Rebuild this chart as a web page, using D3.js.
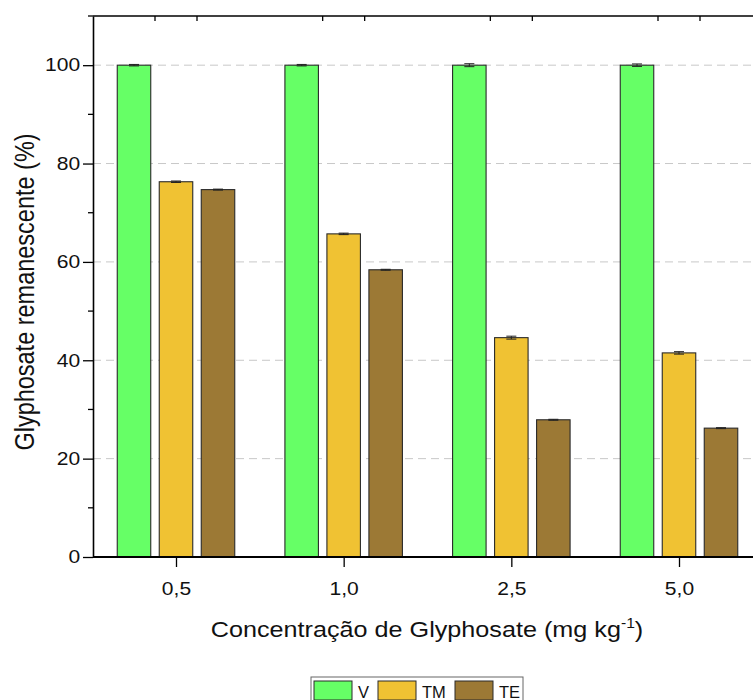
<!DOCTYPE html>
<html>
<head>
<meta charset="utf-8">
<script src="https://cdn.jsdelivr.net/npm/d3@7"></script>
<style>
  html, body { margin: 0; padding: 0; background: #fff; }
  svg { display: block; font-family: "Liberation Sans", Arial, sans-serif; }
</style>
</head>
<body>
<svg id="chart" width="753" height="700"></svg>
<script>
// Remaining glyphosate (%) per concentration and treatment
const categories = ["0,5", "1,0", "2,5", "5,0"];
const seriesNames = ["V", "TM", "TE"];
const valuesV  = [100, 100, 100, 100];
const valuesTM = [76.3, 65.7, 44.6, 41.5];
const valuesTE = [74.7, 58.4, 27.9, 26.2];
const errorsV  = [0.15, 0.15, 0.3, 0.25];
const errorsTM = [0.15, 0.15, 0.3, 0.25];
const errorsTE = [0.1, 0.1, 0.1, 0.1];
const yTicks = [0, 20, 40, 60, 80, 100];
const yMinorTicks = [10, 30, 50, 70, 90, 110];
const colors = ["#66FF66", "#F0C233", "#9C7935"];

const series = [
  { name: seriesNames[0], values: valuesV,  errors: errorsV,  color: colors[0] },
  { name: seriesNames[1], values: valuesTM, errors: errorsTM, color: colors[1] },
  { name: seriesNames[2], values: valuesTE, errors: errorsTE, color: colors[2] }
];

const svg = d3.select("#chart");
const plotLeft = 93, plotTop = 16, plotBottom = 557, plotRight = 762;
const stretch = 1.17;   // text is set slightly wide

const x = d3.scalePoint().domain(categories).range([176, 679]);
const y = d3.scaleLinear().domain([0, 110]).range([plotBottom, plotTop]);
const barW = 33.5, barOffset = 42;

// Dashed gridlines
svg.append("g").selectAll("line").data(yTicks.filter(d => d > 0)).join("line")
  .attr("x1", plotLeft).attr("x2", plotRight)
  .attr("y1", d => y(d)).attr("y2", d => y(d))
  .attr("stroke", "#c8c8c8").attr("stroke-width", 1)
  .attr("stroke-dasharray", "8,5");

// Bars
const groups = svg.append("g").selectAll("g").data(series).join("g");
groups.each(function(s, si) {
  const g = d3.select(this);
  const off = (si - 1) * barOffset;
  g.selectAll("rect").data(s.values).join("rect")
    .attr("x", (d, i) => x(categories[i]) + off - barW / 2)
    .attr("y", d => y(d))
    .attr("width", barW)
    .attr("height", d => y(0) - y(d))
    .attr("fill", s.color)
    .attr("stroke", "#2a2a2a").attr("stroke-width", 1.1);
  // error bars
  const eg = g.append("g").attr("stroke", "#222").attr("stroke-width", 1);
  s.values.forEach((v, i) => {
    const cx = x(categories[i]) + off;
    const e = s.errors[i];
    eg.append("line").attr("x1", cx).attr("x2", cx).attr("y1", y(v + e)).attr("y2", y(v - e));
    eg.append("line").attr("x1", cx - 5).attr("x2", cx + 5).attr("y1", y(v + e)).attr("y2", y(v + e));
    eg.append("line").attr("x1", cx - 5).attr("x2", cx + 5).attr("y1", y(v - e)).attr("y2", y(v - e));
  });
});

// Left axis
const yAxis = d3.axisLeft(y).tickValues(yTicks).tickSize(10).tickSizeOuter(0).tickPadding(1);
const gy = svg.append("g").attr("transform", `translate(${plotLeft},0)`).call(yAxis);
gy.select(".domain").attr("stroke-width", 1.6);
gy.selectAll(".tick line").attr("stroke-width", 1.3);
gy.selectAll(".tick text").attr("font-size", 18).attr("fill", "#111")
  .attr("font-family", "Liberation Sans, Arial, sans-serif")
  .attr("transform", `scale(${stretch},1)`);
svg.append("g").selectAll("line").data(yMinorTicks).join("line")
  .attr("x1", plotLeft - 5).attr("x2", plotLeft)
  .attr("y1", d => y(d)).attr("y2", d => y(d))
  .attr("stroke", "#000").attr("stroke-width", 1.3);

// Bottom axis
const xAxis = d3.axisBottom(x).tickSize(10).tickSizeOuter(0).tickPadding(15);
const gx = svg.append("g").attr("transform", `translate(0,${plotBottom})`).call(xAxis);
gx.select(".domain").attr("d", `M${plotLeft},0H${plotRight}`).attr("stroke-width", 2);
gx.selectAll(".tick line").attr("stroke-width", 1.3);
gx.selectAll(".tick text").attr("font-size", 18).attr("fill", "#111")
  .attr("font-family", "Liberation Sans, Arial, sans-serif")
  .attr("transform", `scale(${stretch},1)`);

// Top frame with inward ticks
svg.append("line").attr("x1", plotLeft).attr("x2", plotRight).attr("y1", plotTop).attr("y2", plotTop)
  .attr("stroke", "#000").attr("stroke-width", 1.6);
const topTicks = [];
categories.forEach(c => { topTicks.push(x(c) - 21, x(c) + 21); });
svg.append("g").selectAll("line").data(topTicks).join("line")
  .attr("x1", d => d).attr("x2", d => d).attr("y1", plotTop).attr("y2", plotTop + 5)
  .attr("stroke", "#000").attr("stroke-width", 1.3);

// Axis titles
svg.append("text")
  .attr("transform", `translate(34,292) scale(1.19,1) rotate(-90)`)
  .attr("text-anchor", "middle")
  .attr("font-size", 23.5).attr("fill", "#111")
  .text("Glyphosate remanescente (%)");

const xt = svg.append("text")
  .attr("transform", `translate(427,637) scale(${stretch - 0.05},1)`)
  .attr("text-anchor", "middle")
  .attr("font-size", 22.5).attr("fill", "#111");
xt.append("tspan").text("Concentração de Glyphosate (mg kg");
xt.append("tspan").attr("font-size", 14).attr("dy", -9).text("-1");
xt.append("tspan").attr("dy", 9).text(")");

// Legend
const lg = svg.append("g");
lg.append("rect").attr("x", 311).attr("y", 677).attr("width", 212).attr("height", 30)
  .attr("fill", "none").attr("stroke", "#666").attr("stroke-width", 1);
const legendX = [314, 378, 455];
series.forEach((s, i) => {
  lg.append("rect").attr("x", legendX[i]).attr("y", 681).attr("width", 38).attr("height", 19)
    .attr("fill", s.color).attr("stroke", "#2a2a2a").attr("stroke-width", 1);
  lg.append("text").attr("x", legendX[i] + 44).attr("y", 697.5)
    .attr("font-size", 16.5).attr("fill", "#111").text(s.name);
});
</script>
</body>
</html>
